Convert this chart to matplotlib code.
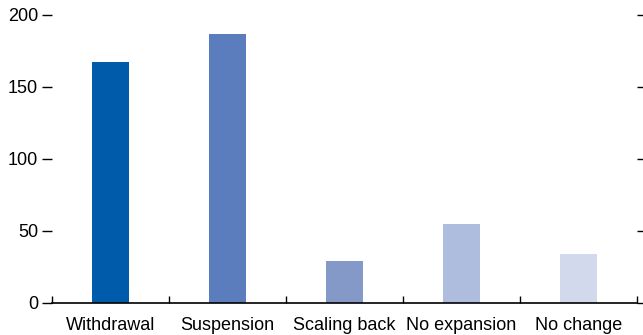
import matplotlib.pyplot as plt
import numpy as np
from matplotlib import font_manager

categories = ["Withdrawal", "Suspension", "Scaling back", "No expansion", "No change"]
values = [167, 187, 29, 55, 34]
colors = ["#005BAA", "#5B7DBD", "#8599C9", "#AEBCDD", "#D3D9EC"]

# condensed font if available
names = {f.name for f in font_manager.fontManager.ttflist}
fam = "Liberation Sans Narrow" if "Liberation Sans Narrow" in names else "Liberation Sans"
plt.rcParams['font.family'] = [fam, 'DejaVu Sans']
plt.rcParams['font.size'] = 13

fig = plt.figure(figsize=(6.43, 3.35), dpi=100)
ax = fig.add_axes([52/643, 1 - 302.7/335, (637 - 52)/643, (302.7 - 15)/335])

x = np.arange(len(categories))
ax.bar(x, values, width=0.32, color=colors)

ax.set_xlim(-0.5, len(categories) - 0.5)
ax.set_ylim(0, 200)
ax.set_yticks([0, 50, 100, 150, 200])

ax.set_xticks(x)
ax.set_xticklabels(categories)
ax.set_xticks(np.arange(-0.5, len(categories)), minor=True)
ax.tick_params(axis='x', which='major', length=0, pad=10)
ax.tick_params(axis='x', which='minor', direction='in', length=5, width=1, color='black')
ax.tick_params(axis='y', which='major', direction='out', length=7, width=1,
               left=True, right=True, labelleft=True, labelright=False, pad=3)

for side in ['left', 'right', 'top']:
    ax.spines[side].set_visible(False)
ax.spines['bottom'].set_linewidth(1.2)

plt.savefig("out.png", dpi=100)
